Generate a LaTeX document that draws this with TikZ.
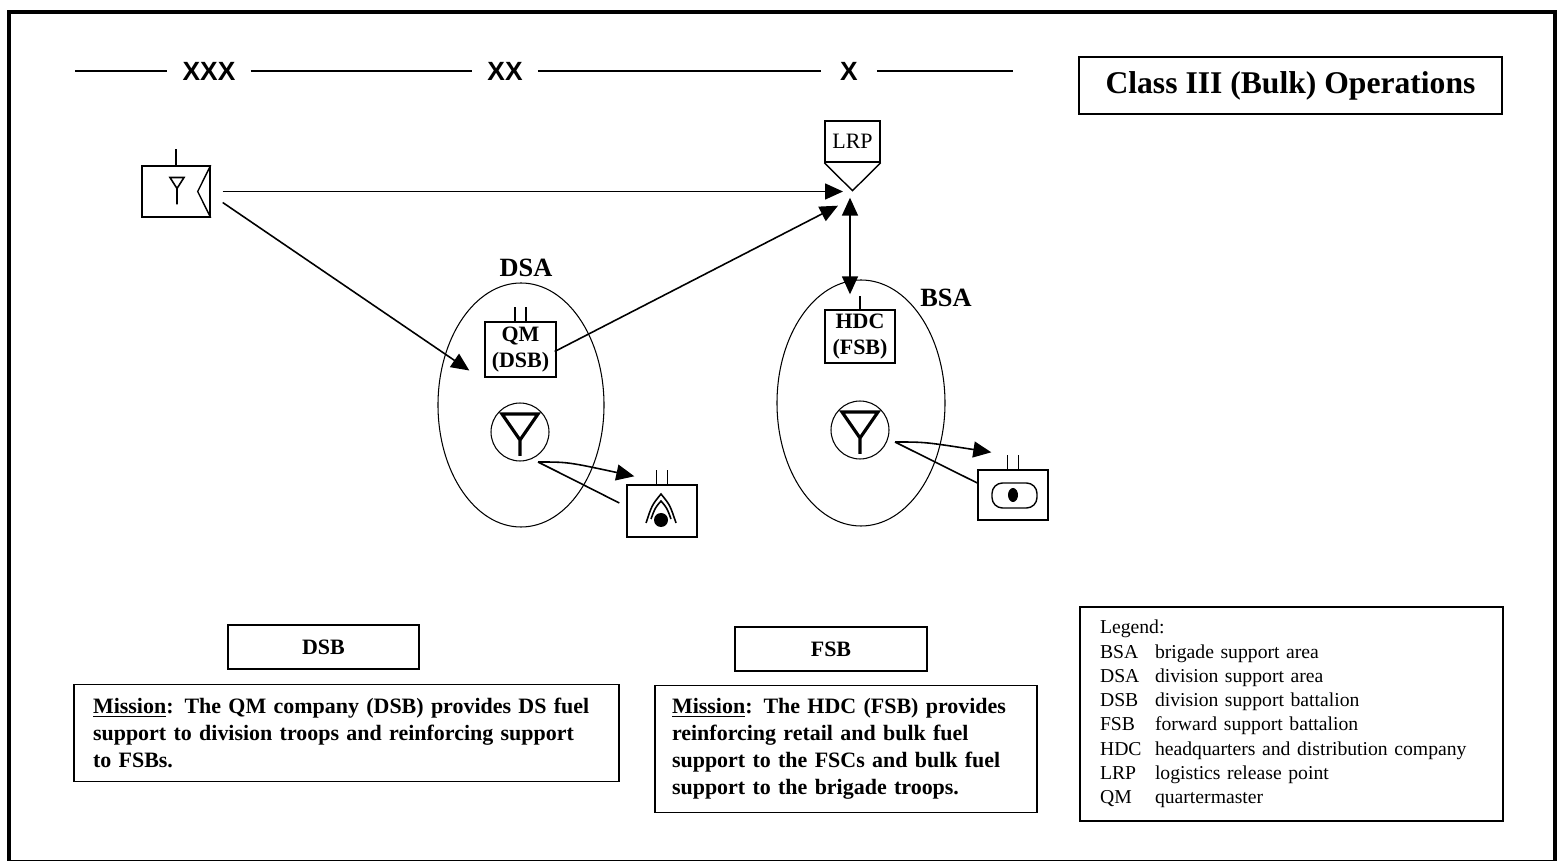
\documentclass[tikz,border=0pt]{standalone}
\usepackage{fontspec}
\setmainfont{Liberation Serif}
\setsansfont{Liberation Sans}
\usetikzlibrary{positioning,calc,arrows.meta}
\newcommand\legitem[1]{\makebox[1.1cm][l]{#1}}

\begin{document}
\begin{tikzpicture}
        [x=0.02cm,y=-0.02cm,
         box/.style={draw,line width=0.8pt,inner sep=0pt,align=center},
         unitbox/.style={box,font=\bfseries\fontsize{12.5}{14.5}\selectfont},
         textbox/.style={box,align=left,font=\bfseries\fontsize{12.5}{15.4}\selectfont},
         fuel/.style={draw,circle,line width=0.6pt,minimum size=1.16cm,inner sep=0pt},
         area/.style={line width=0.6pt},
         echelon/.style={font=\sffamily\bfseries\fontsize{15}{17}\selectfont,inner xsep=0.3cm},
         arealabel/.style={font=\bfseries\fontsize{15}{17}\selectfont},
         flow/.style={line width=0.9pt,-{Triangle[length=0.36cm,width=0.32cm]}},
         dflow/.style={line width=0.9pt,{Triangle[length=0.36cm,width=0.32cm]}-{Triangle[length=0.36cm,width=0.32cm]}},
         tick/.style={line width=0.8pt},
         ysym/.style={line width=1.8pt}]
        \useasboundingbox (0,0) rectangle (1560,861);
        \draw[line width=2.8pt] (9,12) rectangle (1555,862);

        % echelons
        \coordinate (ech0) at (75,71);
        \coordinate (ech1) at (1013,71);
        \node[echelon] (xxx) at (209,71) {XXX};
        \node[echelon] (xx) at (505,71) {XX};
        \node[echelon,minimum width=1.1cm] (x) at (849,71) {X};
        \draw[line width=0.8pt] (ech0) -- (xxx) -- (xx) -- (x) -- (ech1);

        \node[box,minimum width=8.46cm,minimum height=1.14cm,font=\bfseries\fontsize{18}{20}\selectfont] (title) at (1290.5,85.5) {Class III (Bulk) Operations};

        % corps supply point
        \node[box,minimum width=1.36cm,minimum height=1.02cm] (sp) at (176,191.5) {};
        \draw[tick] (sp.north) -- ++(0,-16);
        \draw[line width=0.8pt] (sp.north east) -- ($(sp.east)+(-13,0)$) -- (sp.south east);
        \draw[line width=0.9pt] ($(sp)+(-6,-14)$) -- ($(sp)+(8,-14)$) -- ($(sp)+(1,-3)$) -- cycle
                ($(sp)+(1,-3)$) -- ($(sp)+(1,13)$);

        % LRP
        \node[box,minimum width=1.1cm,minimum height=0.82cm,font=\fontsize{12.5}{14.5}\selectfont] (lrp) at (852.5,141.5) {LRP};
        \coordinate (lrpv) at ($(lrp.south)+(0,28)$);
        \coordinate (lrpin) at ($(lrpv)+(-9.5,0)$);
        \draw[line width=0.8pt] (lrp.south west) -- (lrpv) -- (lrp.south east);

        % DSA
        \draw[area] (521,405) ellipse [x radius=83, y radius=122];
        \node[arealabel] (dsa) at (526,268) {DSA};
        \node[unitbox,minimum width=1.42cm,minimum height=1.1cm] (qm) at (520.5,349.5) {QM\\(DSB)};
        \node[fuel] (dfuel) at (520,432) {};
        \node[box,minimum width=1.4cm,minimum height=1.04cm] (dtruck) at (662,511) {};

        % BSA
        \draw[area] (861,403) ellipse [x radius=84, y radius=123];
        \node[arealabel] (bsa) at (946,298) {BSA};
        \node[unitbox,minimum width=1.4cm,minimum height=1.06cm] (hdc) at (860,336.5) {HDC\\(FSB)};
        \node[fuel] (bfuel) at (860,430) {};
        \node[box,minimum width=1.4cm,minimum height=1.0cm] (btruck) at (1013,495) {};

        % unit ticks and symbols
        \draw[tick] (hdc.north) -- ++(0,-13);
        \foreach \u in {qm,dtruck,btruck}
            \draw[tick] ($(\u.north)+(-5.5,0)$) -- ++(0,-14) ($(\u.north)+(5.5,0)$) -- ++(0,-14);
        \foreach \f in {dfuel,bfuel}
            \draw[ysym] ($(\f)+(-18,-18)$) -- ($(\f)+(18,-18)$) -- ($(\f)+(0,8)$) -- cycle
                ($(\f)+(0,8)$) -- ($(\f)+(0,24)$);
        \draw[line width=0.9pt] ($(dtruck)+(-16,12)$) .. controls ($(dtruck)+(-10,-6)$) .. ($(dtruck)+(-1,-17)$)
                .. controls ($(dtruck)+(8,-6)$) .. ($(dtruck)+(14,12)$);
        \draw[line width=0.9pt] ($(dtruck)+(-11,8)$) .. controls ($(dtruck)+(-7,-3)$) .. ($(dtruck)+(-1,-10)$)
                .. controls ($(dtruck)+(5,-3)$) .. ($(dtruck)+(9,8)$);
        \fill ($(dtruck)+(-1,9)$) circle [radius=7];
        \draw[line width=0.8pt,rounded corners=6pt] ($(btruck)+(-21,-12)$) rectangle ($(btruck)+(24,13)$);
        \fill (btruck) ellipse [x radius=5, y radius=7];

        % flows
        \draw[flow] ($(sp.east)+(12,0)$) -- (sp.east -| lrpin);
        \draw[flow] ($(sp.east)+(12,11)$) -- ($(qm.west)+(-15,21)$);
        \draw[flow] ($(qm.east)+(-2,2)$) -- ($(lrpv)+(-14.5,15)$);
        \draw[dflow] ($(lrpv)+(-2.5,7)$) -- ($(hdc.north)+(-10,-15)$);
        \coordinate (dout) at ($(dfuel)+(18,30)$);
        \draw[flow] (dout) .. controls ($(dout)+(30,0)$) .. ($(dtruck.north west)+(8,-8)$);
        \draw[line width=0.9pt] (dout) .. controls ($(dout)+(28,14)$) .. ($(dtruck.west)+(-7,-8)$);
        \coordinate (bout) at ($(bfuel)+(35,12)$);
        \draw[flow] (bout) .. controls ($(bout)+(30,0)$) .. ($(btruck.north west)+(14,-17)$);
        \draw[line width=0.9pt] (bout) .. controls ($(bout)+(28,14)$) .. ($(btruck.west)+(0,-12)$);

        % missions
        \node[box,minimum width=3.82cm,minimum height=0.88cm,font=\bfseries\fontsize{12.5}{14.5}\selectfont] (dsb) at (323.5,647) {DSB};
        \node[textbox,text width=10.14cm,inner xsep=0.38cm,minimum height=1.94cm,below=0.28cm of dsb,xshift=0.46cm] (dsbm)
            {\underline{Mission}: The QM company (DSB) provides DS fuel\\support to division troops and reinforcing support\\to FSBs.};
        \node[box,minimum width=3.84cm,minimum height=0.88cm,font=\bfseries\fontsize{12.5}{14.5}\selectfont] (fsb) at (831,649) {FSB};
        \node[textbox,text width=6.96cm,inner xsep=0.34cm,minimum height=2.54cm,below=0.26cm of fsb,xshift=0.3cm] (fsbm)
            {\underline{Mission}: The HDC (FSB) provides\\reinforcing retail and bulk fuel\\support to the FSCs and bulk fuel\\support to the brigade troops.};

        % legend
        \node[box,align=left,text width=7.66cm,inner xsep=0.4cm,minimum height=4.28cm,font=\fontsize{11.2}{13.8}\selectfont] (legend) at (1291.5,714)
            {Legend:\\
             \legitem{BSA}brigade support area\\
             \legitem{DSA}division support area\\
             \legitem{DSB}division support battalion\\
             \legitem{FSB}forward support battalion\\
             \legitem{HDC}headquarters and distribution company\\
             \legitem{LRP}logistics release point\\
             \legitem{QM}quartermaster};
\end{tikzpicture}
\end{document}
